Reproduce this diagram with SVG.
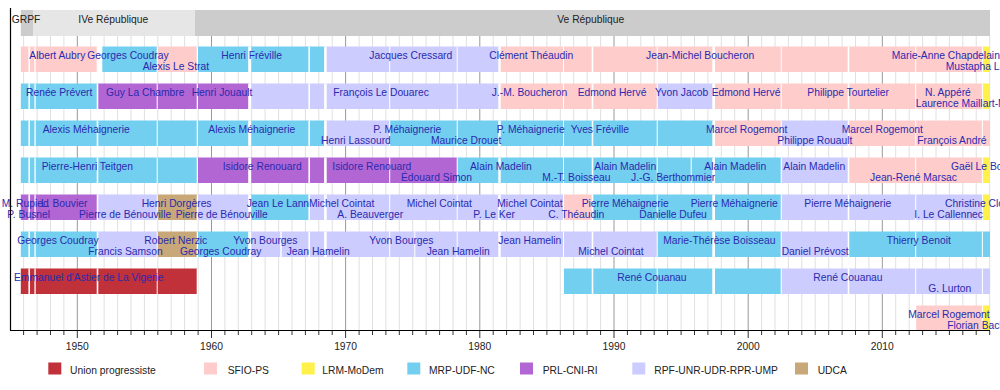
<svg xmlns="http://www.w3.org/2000/svg" width="1000" height="390" viewBox="0 0 1000 390">
<style>
text{font-family:"Liberation Sans",Arial,sans-serif;font-size:10.3px}
.n{fill:#2a2aae}
.h{fill:#222}
.up{fill:#c0313a}.ps{fill:#ffcccc}.lrm{fill:#fff04a}.mrp{fill:#73cff0}.prl{fill:#b266d4}.rpf{fill:#ccccff}.udca{fill:#c8a878}
.sep rect{fill:#fff}
.grid{stroke:#e0e0e0;stroke-width:1;fill:none}
.major{stroke:#999;stroke-width:1;fill:none}
.axis{stroke:#000;stroke-width:1.2;fill:none}
.tick{stroke:#333;stroke-width:1;fill:none}
</style>
<defs>
<g id="sep" class="sep">
<rect x="28.4" y="0" width="1.6" height="25.5"/><rect x="34.4" y="0" width="1.3" height="25.5"/><rect x="96.7" y="0" width="1.6" height="25.5"/><rect x="156.7" y="0" width="1" height="25.5"/><rect x="196.7" y="0" width="1.3" height="25.5"/><rect x="248.2" y="0" width="3" height="25.5"/><rect x="308.4" y="0" width="1.6" height="25.5"/><rect x="324.1" y="0" width="2.6" height="25.5"/><rect x="389.2" y="0" width="1" height="25.5"/><rect x="456.7" y="0" width="1" height="25.5"/><rect x="498.3" y="0" width="2.4" height="25.5"/><rect x="563" y="0" width="1" height="25.5"/><rect x="591.7" y="0" width="1.6" height="25.5"/><rect x="656.7" y="0" width="1" height="25.5"/><rect x="712.3" y="0" width="2.7" height="25.5"/><rect x="780.7" y="0" width="1" height="25.5"/><rect x="847.7" y="0" width="1.6" height="25.5"/><rect x="915.2" y="0" width="1" height="25.5"/><rect x="981.9" y="0" width="1" height="25.5"/>
</g>
</defs>
<rect width="1000" height="390" fill="#fff"/>
<g id="header">
<rect x="20.8" y="10" width="12.2" height="26" fill="#cccccc"/>
<rect x="33" y="10" width="162" height="26" fill="#e6e6e6"/>
<rect x="195" y="10" width="795" height="26" fill="#cccccc"/>
<text class="h" x="11.7" y="22.8">GRPF</text>
<text class="h" x="78.3" y="22.8">IVe République</text>
<text class="h" x="557.3" y="22.8">Ve République</text>
</g>
<g id="grid">
<path class="grid" d="M23.6 36V330M37.1 36V330M50.5 36V330M63.9 36V330M90.7 36V330M104.1 36V330M117.6 36V330M131 36V330M144.4 36V330M157.8 36V330M171.2 36V330M184.6 36V330M198.1 36V330M224.9 36V330M238.3 36V330M251.7 36V330M265.1 36V330M278.6 36V330M292 36V330M305.4 36V330M318.8 36V330M332.2 36V330M359.1 36V330M372.5 36V330M385.9 36V330M399.3 36V330M412.7 36V330M426.1 36V330M439.6 36V330M453 36V330M466.4 36V330M493.2 36V330M506.6 36V330M520.1 36V330M533.5 36V330M546.9 36V330M560.3 36V330M573.7 36V330M587.1 36V330M600.6 36V330M627.4 36V330M640.8 36V330M654.2 36V330M667.6 36V330M681.1 36V330M694.5 36V330M707.9 36V330M721.3 36V330M734.7 36V330M761.6 36V330M775 36V330M788.4 36V330M801.8 36V330M815.2 36V330M828.7 36V330M842.1 36V330M855.5 36V330M868.9 36V330M895.7 36V330M909.2 36V330M922.6 36V330M936 36V330M949.4 36V330M962.8 36V330M976.2 36V330M989.7 36V330"/>
<path class="major" d="M77.3 36V330M211.5 36V330M345.6 36V330M479.8 36V330M614 36V330M748.2 36V330M882.3 36V330"/>
</g>
<g id="row-1">
<rect class="ps" x="20.8" y="46.5" width="76.7" height="25.5"/>
<rect class="mrp" x="102.3" y="46.5" width="54.9" height="25.5"/>
<rect class="ps" x="157.2" y="46.5" width="40.15" height="25.5"/>
<rect class="mrp" x="197.35" y="46.5" width="128.05" height="25.5"/>
<rect class="rpf" x="325.4" y="46.5" width="174.1" height="25.5"/>
<rect class="ps" x="499.5" y="46.5" width="482.85" height="25.5"/>
<rect class="lrm" x="982.35" y="46.5" width="7.65" height="25.5"/>
<use href="#sep" y="46.5"/>
<text class="n" x="29.3" y="59.3">Albert Aubry</text>
<text class="n" x="87.3" y="59.3">Georges Coudray</text>
<text class="n" x="142.7" y="69.7">Alexis Le Strat</text>
<text class="n" x="221.3" y="59.3">Henri Fréville</text>
<text class="n" x="369.3" y="59.3">Jacques Cressard</text>
<text class="n" x="489.3" y="59.3">Clément Théaudin</text>
<text class="n" x="646" y="59.3">Jean-Michel Boucheron</text>
<text class="n" x="891.7" y="59.3">Marie-Anne Chapdelaine</text>
<text class="n" x="945.7" y="69.7">Mustapha Laabid</text>
</g>
<g id="row-2">
<rect class="mrp" x="20.8" y="83.5" width="76.7" height="25.5"/>
<rect class="prl" x="97.5" y="83.5" width="152.2" height="25.5"/>
<rect class="rpf" x="249.7" y="83.5" width="249.8" height="25.5"/>
<rect class="ps" x="499.5" y="83.5" width="157.7" height="25.5"/>
<rect class="rpf" x="657.2" y="83.5" width="56.45" height="25.5"/>
<rect class="ps" x="713.65" y="83.5" width="268.7" height="25.5"/>
<rect class="lrm" x="982.35" y="83.5" width="7.65" height="25.5"/>
<use href="#sep" y="83.5"/>
<text class="n" x="26" y="96.3">Renée Prévert</text>
<text class="n" x="106" y="96.3">Guy La Chambre</text>
<text class="n" x="191.7" y="96.3">Henri Jouault</text>
<text class="n" x="333.3" y="96.3">François Le Douarec</text>
<text class="n" x="491.7" y="96.3">J.-M. Boucheron</text>
<text class="n" x="577.7" y="96.3">Edmond Hervé</text>
<text class="n" x="655" y="96.3">Yvon Jacob</text>
<text class="n" x="711.7" y="96.3">Edmond Hervé</text>
<text class="n" x="807.3" y="96.3">Philippe Tourtelier</text>
<text class="n" x="925" y="96.3">N. Appéré</text>
<text class="n" x="915.7" y="106.7">Laurence Maillart-Méhaignerie</text>
</g>
<g id="row-3">
<rect class="mrp" x="20.8" y="120.5" width="304.6" height="25.5"/>
<rect class="rpf" x="325.4" y="120.5" width="64.3" height="25.5"/>
<rect class="mrp" x="389.7" y="120.5" width="323.95" height="25.5"/>
<rect class="ps" x="713.65" y="120.5" width="67.55" height="25.5"/>
<rect class="rpf" x="781.2" y="120.5" width="67.3" height="25.5"/>
<rect class="ps" x="848.5" y="120.5" width="141.5" height="25.5"/>
<use href="#sep" y="120.5"/>
<text class="n" x="42.7" y="133.3">Alexis Méhaignerie</text>
<text class="n" x="208.3" y="133.3">Alexis Méhaignerie</text>
<text class="n" x="321" y="143.7">Henri Lassourd</text>
<text class="n" x="373.3" y="133.3">P. Méhaignerie</text>
<text class="n" x="431" y="143.7">Maurice Drouet</text>
<text class="n" x="496.7" y="133.3">P. Méhaignerie</text>
<text class="n" x="570.7" y="133.3">Yves Fréville</text>
<text class="n" x="706" y="133.3">Marcel Rogemont</text>
<text class="n" x="777.3" y="143.7">Philippe Rouault</text>
<text class="n" x="841.7" y="133.3">Marcel Rogemont</text>
<text class="n" x="917.3" y="143.7">François André</text>
</g>
<g id="row-4">
<rect class="mrp" x="20.8" y="157.5" width="176.55" height="25.5"/>
<rect class="prl" x="197.35" y="157.5" width="259.85" height="25.5"/>
<rect class="mrp" x="457.2" y="157.5" width="324" height="25.5"/>
<rect class="rpf" x="781.2" y="157.5" width="67.3" height="25.5"/>
<rect class="ps" x="848.5" y="157.5" width="133.85" height="25.5"/>
<rect class="lrm" x="982.35" y="157.5" width="7.65" height="25.5"/>
<use href="#sep" y="157.5"/>
<rect x="690.7" y="157.5" width="1" height="25.5" fill="#fff"/>
<text class="n" x="41.7" y="170.3">Pierre-Henri Teitgen</text>
<text class="n" x="222.7" y="170.3">Isidore Renouard</text>
<text class="n" x="332.3" y="170.3">Isidore Renouard</text>
<text class="n" x="401" y="180.7">Édouard Simon</text>
<text class="n" x="470" y="170.3">Alain Madelin</text>
<text class="n" x="542.3" y="180.7">M.-T. Boisseau</text>
<text class="n" x="594.3" y="170.3">Alain Madelin</text>
<text class="n" x="631" y="180.7">J.-G. Berthommier</text>
<text class="n" x="704.3" y="170.3">Alain Madelin</text>
<text class="n" x="783.3" y="170.3">Alain Madelin</text>
<text class="n" x="870" y="180.7">Jean-René Marsac</text>
<text class="n" x="951" y="170.3">Gaël Le Bohec</text>
</g>
<g id="row-5">
<rect class="prl" x="20.8" y="194.5" width="76.7" height="25.5"/>
<rect class="rpf" x="97.5" y="194.5" width="59.7" height="25.5"/>
<rect class="udca" x="157.2" y="194.5" width="40.15" height="25.5"/>
<rect class="rpf" x="197.35" y="194.5" width="52.35" height="25.5"/>
<rect class="mrp" x="249.7" y="194.5" width="59.5" height="25.5"/>
<rect class="rpf" x="309.2" y="194.5" width="254.3" height="25.5"/>
<rect class="ps" x="563.5" y="194.5" width="29" height="25.5"/>
<rect class="mrp" x="592.5" y="194.5" width="188.7" height="25.5"/>
<rect class="rpf" x="781.2" y="194.5" width="201.15" height="25.5"/>
<rect class="lrm" x="982.35" y="194.5" width="7.65" height="25.5"/>
<use href="#sep" y="194.5"/>
<text class="n" x="1.7" y="207.3">M. Rupied</text>
<text class="n" x="7.3" y="217.7">P. Busnel</text>
<text class="n" x="41" y="207.3">L. Bouvier</text>
<text class="n" x="79" y="217.7">Pierre de Bénouville</text>
<text class="n" x="141.7" y="207.3">Henri Dorgères</text>
<text class="n" x="175.7" y="217.7">Pierre de Bénouville</text>
<text class="n" x="246.7" y="207.3">Jean Le Lann</text>
<text class="n" x="309" y="207.3">Michel Cointat</text>
<text class="n" x="337.3" y="217.7">A. Beauverger</text>
<text class="n" x="406.7" y="207.3">Michel Cointat</text>
<text class="n" x="473.3" y="217.7">P. Le Ker</text>
<text class="n" x="497.3" y="207.3">Michel Cointat</text>
<text class="n" x="548.3" y="217.7">C. Théaudin</text>
<text class="n" x="581.7" y="207.3">Pierre Méhaignerie</text>
<text class="n" x="639.3" y="217.7">Danielle Dufeu</text>
<text class="n" x="690.7" y="207.3">Pierre Méhaignerie</text>
<text class="n" x="804.3" y="207.3">Pierre Méhaignerie</text>
<text class="n" x="914.3" y="217.7">I. Le Callennec</text>
<text class="n" x="945" y="207.3">Christine Cloarec</text>
</g>
<g id="row-6">
<rect class="mrp" x="20.8" y="231.5" width="76.7" height="25.5"/>
<rect class="rpf" x="97.5" y="231.5" width="59.7" height="25.5"/>
<rect class="udca" x="157.2" y="231.5" width="40.15" height="25.5"/>
<rect class="mrp" x="197.35" y="231.5" width="52.35" height="25.5"/>
<rect class="rpf" x="249.7" y="231.5" width="407.5" height="25.5"/>
<rect class="mrp" x="657.2" y="231.5" width="124" height="25.5"/>
<rect class="rpf" x="781.2" y="231.5" width="67.3" height="25.5"/>
<rect class="mrp" x="848.5" y="231.5" width="141.5" height="25.5"/>
<use href="#sep" y="231.5"/>
<rect x="280.3" y="231.5" width="1.4" height="25.5" fill="#fff"/>
<rect x="414.3" y="231.5" width="1" height="25.5" fill="#fff"/>
<text class="n" x="17.3" y="244.3">Georges Coudray</text>
<text class="n" x="88.3" y="254.7">Francis Samson</text>
<text class="n" x="144.3" y="244.3">Robert Nerzic</text>
<text class="n" x="180" y="254.7">Georges Coudray</text>
<text class="n" x="233.3" y="244.3">Yvon Bourges</text>
<text class="n" x="286.7" y="254.7">Jean Hamelin</text>
<text class="n" x="369.3" y="244.3">Yvon Bourges</text>
<text class="n" x="426.7" y="254.7">Jean Hamelin</text>
<text class="n" x="498.3" y="244.3">Jean Hamelin</text>
<text class="n" x="578.3" y="254.7">Michel Cointat</text>
<text class="n" x="663.3" y="244.3">Marie-Thérèse Boisseau</text>
<text class="n" x="781.7" y="254.7">Daniel Prévost</text>
<text class="n" x="886.7" y="244.3">Thierry Benoit</text>
</g>
<g id="row-7">
<rect class="up" x="20.8" y="268.5" width="176.55" height="25.5"/>
<rect class="mrp" x="564" y="268.5" width="217.2" height="25.5"/>
<rect class="rpf" x="781.2" y="268.5" width="208.8" height="25.5"/>
<g class="sep">
<rect x="28.4" y="268.5" width="1.6" height="25.5"/><rect x="34.4" y="268.5" width="1.3" height="25.5"/><rect x="96.7" y="268.5" width="1.6" height="25.5"/><rect x="156.7" y="268.5" width="1" height="25.5"/><rect x="196.7" y="268.5" width="1.3" height="25.5"/><rect x="591.7" y="268.5" width="1.6" height="25.5"/><rect x="656.7" y="268.5" width="1" height="25.5"/><rect x="712.3" y="268.5" width="2.7" height="25.5"/><rect x="780.7" y="268.5" width="1" height="25.5"/><rect x="847.7" y="268.5" width="1.6" height="25.5"/><rect x="915.2" y="268.5" width="1" height="25.5"/><rect x="981.9" y="268.5" width="1" height="25.5"/>
</g>
<text class="n" x="14" y="281.3">Emmanuel d'Astier de La Vigerie</text>
<text class="n" x="617.3" y="281.3">René Couanau</text>
<text class="n" x="813.3" y="281.3">René Couanau</text>
<text class="n" x="928.3" y="291.7">G. Lurton</text>
</g>
<g id="row-8">
<rect class="ps" x="916.2" y="305.5" width="65.7" height="24.5"/>
<rect class="lrm" x="982.9" y="305.5" width="7.1" height="24.5"/>
<text class="n" x="908.3" y="318.3">Marcel Rogemont</text>
<text class="n" x="947.3" y="328.7">Florian Bachelier</text>
</g>
<g id="axis">
<path class="axis" d="M10.5 8V330.5M10 330.5H990"/>
<path class="tick" d="M23.6 331v4M37.1 331v4M50.5 331v4M63.9 331v4M90.7 331v4M104.1 331v4M117.6 331v4M131 331v4M144.4 331v4M157.8 331v4M171.2 331v4M184.6 331v4M198.1 331v4M224.9 331v4M238.3 331v4M251.7 331v4M265.1 331v4M278.6 331v4M292 331v4M305.4 331v4M318.8 331v4M332.2 331v4M359.1 331v4M372.5 331v4M385.9 331v4M399.3 331v4M412.7 331v4M426.1 331v4M439.6 331v4M453 331v4M466.4 331v4M493.2 331v4M506.6 331v4M520.1 331v4M533.5 331v4M546.9 331v4M560.3 331v4M573.7 331v4M587.1 331v4M600.6 331v4M627.4 331v4M640.8 331v4M654.2 331v4M667.6 331v4M681.1 331v4M694.5 331v4M707.9 331v4M721.3 331v4M734.7 331v4M761.6 331v4M775 331v4M788.4 331v4M801.8 331v4M815.2 331v4M828.7 331v4M842.1 331v4M855.5 331v4M868.9 331v4M895.7 331v4M909.2 331v4M922.6 331v4M936 331v4M949.4 331v4M962.8 331v4M976.2 331v4M989.7 331v4M77.3 331v7M211.5 331v7M345.6 331v7M479.8 331v7M614 331v7M748.2 331v7M882.3 331v7"/>
<g class="h" text-anchor="middle">
<text x="77.3" y="349.5">1950</text><text x="211.5" y="349.5">1960</text><text x="345.6" y="349.5">1970</text><text x="479.8" y="349.5">1980</text><text x="614" y="349.5">1990</text><text x="748.2" y="349.5">2000</text><text x="882.3" y="349.5">2010</text>
</g>
</g>
<g id="legend">
<rect class="up" x="48.3" y="362.5" width="13" height="12"/><text class="h" x="70" y="373.5">Union progressiste</text>
<rect class="ps" x="204" y="362.5" width="13" height="12"/><text class="h" x="227.7" y="373.5">SFIO-PS</text>
<rect class="lrm" x="301.7" y="362.5" width="13" height="12"/><text class="h" x="322.3" y="373.5">LRM-MoDem</text>
<rect class="mrp" x="407.3" y="362.5" width="13" height="12"/><text class="h" x="429" y="373.5">MRP-UDF-NC</text>
<rect class="prl" x="520" y="362.5" width="13" height="12"/><text class="h" x="542.7" y="373.5">PRL-CNI-RI</text>
<rect class="rpf" x="632.3" y="362.5" width="13" height="12"/><text class="h" x="654.3" y="373.5">RPF-UNR-UDR-RPR-UMP</text>
<rect class="udca" x="795" y="362.5" width="13" height="12"/><text class="h" x="817.7" y="373.5">UDCA</text>
</g>
</svg>
